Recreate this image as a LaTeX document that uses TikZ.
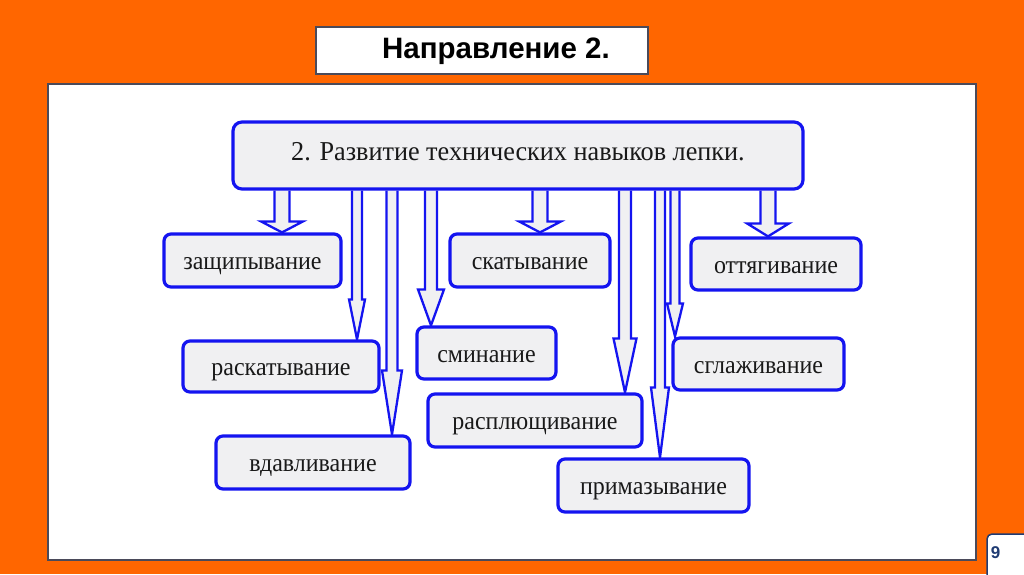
\documentclass[tikz,border=0pt]{standalone}
\usepackage{fontspec}
\setmainfont{Liberation Serif}
\newfontfamily\sansfnt{Liberation Sans}
\newfontfamily\boxfnt[FakeStretch=0.94]{Liberation Serif}
\newfontfamily\mainfnt[FakeStretch=0.96]{Liberation Serif}
\usetikzlibrary{calc}
\definecolor{bgorange}{HTML}{FF6600}
\definecolor{bblue}{HTML}{1414F0}
\definecolor{boxfill}{HTML}{F0F0F2}
\definecolor{numblue}{HTML}{1F3B73}
\definecolor{framegray}{HTML}{4A4A5A}
\pgfdeclarelayer{back}
\pgfdeclarelayer{arrows}
\pgfsetlayers{back,arrows,main}
\newcommand\barrow[6]{%
  \draw[arr] let \p1=(#2.south), \p2=(#3.north) in
    (#1pt-#4pt,\y1) -- (#1pt-#4pt,\y2+#6pt) -- (#1pt-#5pt,\y2+#6pt) -- (#1pt,\y2)
    -- (#1pt+#5pt,\y2+#6pt) -- (#1pt+#4pt,\y2+#6pt) -- (#1pt+#4pt,\y1);}
\begin{document}
\begin{tikzpicture}[x=1pt,y=-1pt,
  cbox/.style={draw=bblue, line width=3.2pt, fill=boxfill, rounded corners=7pt,
    inner sep=0pt, font=\boxfnt\fontsize{25.5}{28}\selectfont, text=black!90,
    text height=18pt, text depth=0pt},
  mainbox/.style={cbox, rounded corners=9pt, font=\mainfnt\fontsize{27.3}{30}\selectfont,
    text height=10pt, text depth=0pt},
  arr/.style={draw=bblue, line width=2.3pt, fill=boxfill, line join=miter}]
\useasboundingbox (0,0) rectangle (1024,574);
\begin{pgfonlayer}{back}
\fill[bgorange] (0,0) rectangle (1024,574);
\draw[framegray, line width=1.2pt, fill=white] (316,27) rectangle (648,74);
\draw[framegray, line width=1.4pt, fill=white] (48,84) rectangle (976,560);
\draw[numblue, line width=1.5pt, fill=white, rounded corners=5pt] (987,534) rectangle (1040,590);
\end{pgfonlayer}
\node[font=\sansfnt\bfseries\fontsize{29.5}{34}\selectfont, text=black] (title) at (496,51) {Направление 2.};
\node[font=\sansfnt\bfseries\fontsize{17}{20}\selectfont, text=numblue] (num) at (995.5,553) {9};

\node[mainbox, minimum width=570pt, minimum height=67pt] (main) at (518,155.5) {2. Развитие технических навыков лепки.};

\node[cbox, minimum width=177pt, minimum height=53pt] (zas) at (252.5,260.5) {защипывание};
\node[cbox, minimum width=196pt, minimum height=51pt] (ras) at (281,366.5) {раскатывание};
\node[cbox, minimum width=194pt, minimum height=53pt] (vda) at (313,462.5) {вдавливание};
\node[cbox, minimum width=160pt, minimum height=53pt] (ska) at (530,260.5) {скатывание};
\node[cbox, minimum width=139pt, minimum height=52pt] (smi) at (486.5,353) {сминание};
\node[cbox, minimum width=214pt, minimum height=53pt] (rasp) at (535,420.5) {расплющивание};
\node[cbox, minimum width=191pt, minimum height=53pt] (prim) at (653.5,485.5) {примазывание};
\node[cbox, minimum width=170pt, minimum height=52pt] (ott) at (776,264) {оттягивание};
\node[cbox, minimum width=171pt, minimum height=52pt] (sgl) at (758.5,364) {сглаживание};

\begin{pgfonlayer}{arrows}
\barrow{282}{main}{zas}{7.5}{21}{11}
\barrow{540}{main}{ska}{7.5}{21}{11}
\barrow{768}{main}{ott}{7.5}{21}{13}
\barrow{357}{main}{ras}{5}{8}{40}
\barrow{392}{main}{vda}{5.5}{10}{64}
\barrow{431}{main}{smi}{6}{13}{36}
\barrow{625}{main}{rasp}{6}{11.5}{54}
\barrow{660}{main}{prim}{5}{9}{70}
\barrow{675}{main}{sgl}{4.5}{8}{33}
\end{pgfonlayer}
\end{tikzpicture}
\end{document}
